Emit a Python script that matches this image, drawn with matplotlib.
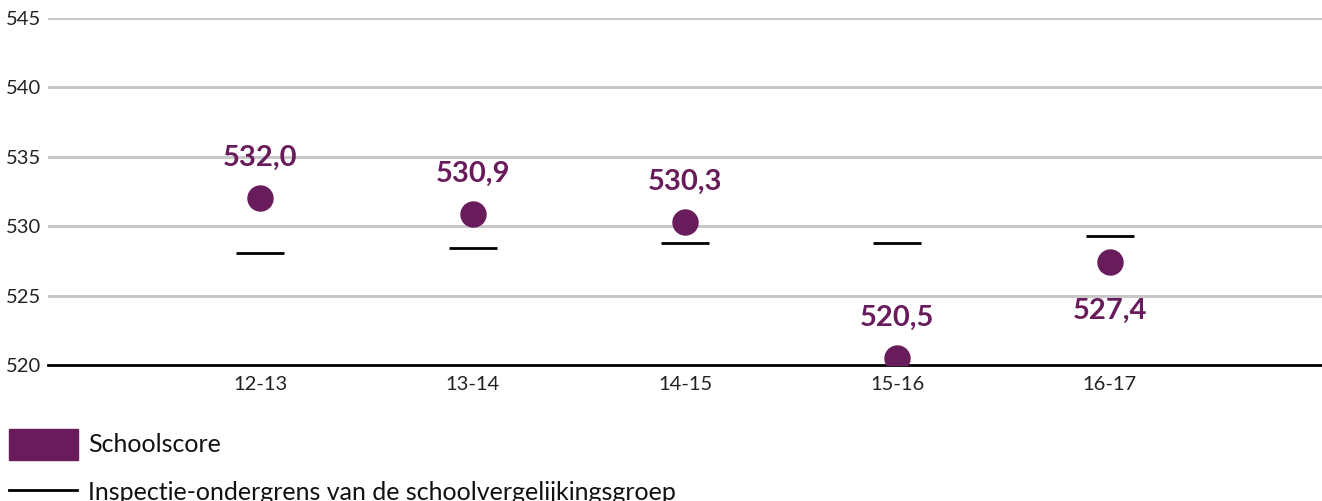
import matplotlib
matplotlib.use("Agg")
import matplotlib.pyplot as plt
from matplotlib.patches import Rectangle
from matplotlib.lines import Line2D

# --- data ---
jaren = ["12-13", "13-14", "14-15", "15-16", "16-17"]
schoolscore = [532.0, 530.9, 530.3, 520.5, 527.4]
ondergrens = [528.1, 528.4, 528.8, 528.8, 529.3]
label_boven = [True, True, True, True, False]
yticks = [520, 525, 530, 535, 540, 545]

PAARS = "#681c5b"

plt.rcParams['font.family'] = ['Lato', 'DejaVu Sans']

W, H = 1322, 501
fig = plt.figure(figsize=(W / 100, H / 100), dpi=100)
ax = fig.add_axes([48 / W, (H - 365) / H, (W - 48) / W, (365 - 18) / H])

x = list(range(len(jaren)))
ax.set_xlim(-1, 5)
ax.set_ylim(520, 545)

# rasterlijnen
for t in yticks[1:]:
    ax.axhline(t, color="#c8c8c8", linewidth=2.2, zorder=1)
ax.axhline(520, color="black", linewidth=2, zorder=2, clip_on=False)

# ondergrens streepjes
ax.hlines(ondergrens, [i - 0.113 for i in x], [i + 0.113 for i in x],
          color="black", linewidth=2, zorder=3)

# schoolscore punten
ax.plot(x, schoolscore, linestyle="none", marker="o", markersize=18,
        color=PAARS, zorder=4)

for i, (v, boven) in enumerate(zip(schoolscore, label_boven)):
    offset = 29 if boven else -35
    ax.annotate(f"{v:.1f}".replace(".", ","), (i, v), xytext=(0, offset),
                textcoords="offset points", ha="center", va="center",
                fontsize=21, fontweight="bold", color=PAARS, zorder=5)

for s in ax.spines.values():
    s.set_visible(False)

ax.set_xticks(x)
ax.set_xticklabels(jaren, fontsize=14.5, color="#222222")
ax.set_yticks(yticks)
ax.set_yticklabels([str(t) for t in yticks], fontsize=14.5, color="#222222")
ax.tick_params(axis="both", length=0)
ax.tick_params(axis="x", pad=8)
ax.tick_params(axis="y", pad=5)

# legenda
fig.add_artist(Rectangle((9 / W, (H - 460) / H), 69 / W, 31 / H,
                         transform=fig.transFigure, color=PAARS))
fig.text(88 / W, (H - 445) / H, "Schoolscore", fontsize=18, va="center",
         color="#111111")
fig.add_artist(Line2D([9 / W, 77 / W], [(H - 490) / H, (H - 490) / H],
                      transform=fig.transFigure, color="black", linewidth=2))
fig.text(88 / W, (H - 492) / H, "Inspectie-ondergrens van de schoolvergelijkingsgroep",
         fontsize=18, va="center", color="#111111")

fig.savefig("out.png", dpi=100)
